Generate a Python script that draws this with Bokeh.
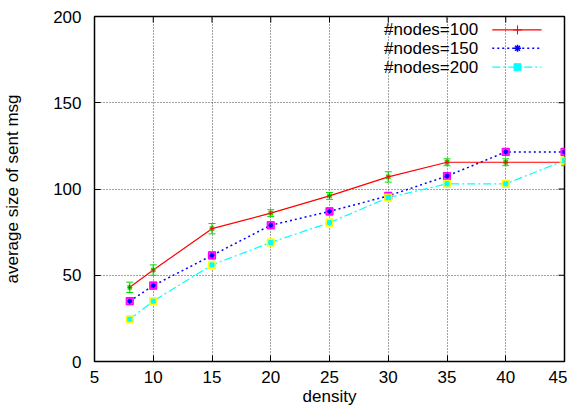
import math
from bokeh.plotting import figure
from bokeh.models import FixedTicker, Range1d, Whisker, ColumnDataSource
from bokeh.embed import file_html
from bokeh.resources import INLINE
from bokeh.core.properties import value

# ---- data ----
density = [8, 10, 15, 20, 25, 30, 35, 40, 45]
nodes100 = [43, 53, 77, 86, 96, 107, 115.5, 115.5, 115.5]
nodes150 = [35, 44, 61.5, 79, 87, 96, 107.5, 121.5, 121.5]
nodes200 = [24.5, 35, 56, 69, 80.5, 95, 103, 103, 116.5]
err100 = [3, 3, 3, 2, 2, 3, 2, 2, 2]
err150 = [2, 2, 2, 2, 2, 2, 2, 2, 2]
err200 = [2, 2, 2, 2, 2, 2, 2, 2, 2]
series_labels = ["#nodes=100", "#nodes=150", "#nodes=200"]
x_ticks = [5, 10, 15, 20, 25, 30, 35, 40, 45]
y_ticks = [0, 50, 100, 150, 200]

FONT = "Liberation Sans"
FS = "17px"
XMIN, XMAX, YMIN, YMAX = 5, 45, 0, 200

p = figure(width=567, height=408, output_backend="svg", toolbar_location=None,
           x_range=Range1d(XMIN, XMAX), y_range=Range1d(YMIN, YMAX),
           min_border_left=87, min_border_right=3, min_border_top=16, min_border_bottom=47)
p.background_fill_color = "white"
p.border_fill_color = "white"
p.outline_line_color = "black"
p.outline_line_width = 1.5

for ax in (p.xaxis[0], p.yaxis[0]):
    ax.major_label_text_font = FONT
    ax.major_label_text_font_size = FS
    ax.major_label_text_color = "black"
    ax.axis_label_text_font = FONT
    ax.axis_label_text_font_size = FS
    ax.axis_label_text_font_style = "normal"
    ax.axis_label_text_color = "black"
    ax.major_tick_in = 6
    ax.major_tick_out = 0
    ax.minor_tick_in = 0
    ax.minor_tick_out = 0
    ax.axis_line_color = None
    ax.major_tick_line_color = "black"

p.xaxis[0].ticker = FixedTicker(ticks=x_ticks)
p.yaxis[0].ticker = FixedTicker(ticks=y_ticks)
p.xaxis[0].axis_label = "density"
p.yaxis[0].axis_label = "average size of sent msg"
p.xaxis[0].major_label_standoff = 9
p.xaxis[0].axis_label_standoff = 1
p.yaxis[0].major_label_standoff = 13
p.yaxis[0].axis_label_standoff = 28

p.xgrid.grid_line_color = "#444444"
p.ygrid.grid_line_color = "#444444"
p.xgrid.grid_line_dash = "1 2"
p.ygrid.grid_line_dash = "1 2"
p.xgrid.grid_line_width = 1
p.ygrid.grid_line_width = 1

# mirrored tick marks on the top and right frame edges (half of each dash is clipped)
p.scatter(x=x_ticks, y=[YMAX] * len(x_ticks), marker="dash", angle=math.pi / 2,
          size=12, line_color="black", line_width=1)
p.scatter(x=[XMAX] * len(y_ticks), y=y_ticks, marker="dash",
          size=12, line_color="black", line_width=1)

def src(vals, err):
    return ColumnDataSource(dict(x=density, y=vals,
                                 lo=[v - e for v, e in zip(vals, err)],
                                 hi=[v + e for v, e in zip(vals, err)]))

s100, s150, s200 = src(nodes100, err100), src(nodes150, err150), src(nodes200, err200)

# lines
p.line("x", "y", source=s100, line_color="#ff0000", line_width=1.2)
p.line("x", "y", source=s150, line_color="#0000ff", line_width=1.5, line_dash="2 3")
p.line("x", "y", source=s200, line_color="#00ffff", line_width=1.2, line_dash="8 3 2 3")

# error bars and points
for s, ecol in ((s100, "#00e000"), (s150, "#ff00ff"), (s200, "#ffff00")):
    w = Whisker(source=s, base="x", lower="lo", upper="hi", line_color=ecol, line_width=1.2)
    w.upper_head.size = 7
    w.lower_head.size = 7
    w.upper_head.line_color = ecol
    w.lower_head.line_color = ecol
    p.add_layout(w)

p.scatter("x", "y", source=s100, marker="x", size=6, line_color="#00e000", line_width=1.5)
p.scatter("x", "y", source=s100, marker="cross", size=5, line_color="#ff0000", line_width=1)
p.scatter("x", "y", source=s150, marker="square", size=7, line_color="#ff00ff",
          fill_color="#ff00ff", fill_alpha=0.8, line_width=1.2)
p.scatter("x", "y", source=s150, marker="asterisk", size=5, line_color="#0000ff", line_width=1.2)
p.scatter("x", "y", source=s200, marker="square", size=7, line_color="#ffff00",
          fill_color="#ffff00", fill_alpha=0.8, line_width=1.2)
p.scatter("x", "y", source=s200, marker="square", size=4, line_color="#00ffff",
          fill_color="#00ffff")

# gnuplot-style key (text on the left, sample on the right), top-right inside
key_text_x = 37.65
key_line_x0, key_line_x1, key_mark_x = 38.85, 43.05, 41.0
key_y = [192.2, 181.6, 170.6]
styles = [
    dict(line_color="#ff0000", line_width=1.2, line_dash="solid"),
    dict(line_color="#0000ff", line_width=1.5, line_dash="2 3"),
    dict(line_color="#00ffff", line_width=1.2, line_dash="8 3 2 3"),
]
p.text(x=[key_text_x] * 3, y=key_y, text=series_labels, text_align="right",
       text_baseline="middle", text_font=value(FONT), text_font_size=FS, text_color="black")
for yy, st in zip(key_y, styles):
    p.segment(x0=[key_line_x0], y0=[yy], x1=[key_line_x1], y1=[yy], **st)
p.scatter(x=[key_mark_x], y=[key_y[0]], marker="cross", size=9, line_color="#ff0000", line_width=1)
p.scatter(x=[key_mark_x], y=[key_y[1]], marker="asterisk", size=7, line_color="#0000ff", line_width=1.5)
p.scatter(x=[key_mark_x], y=[key_y[2]], marker="square", size=7, line_color="#00ffff", fill_color="#00ffff")

open("out.html", "w").write(file_html(p, INLINE))
